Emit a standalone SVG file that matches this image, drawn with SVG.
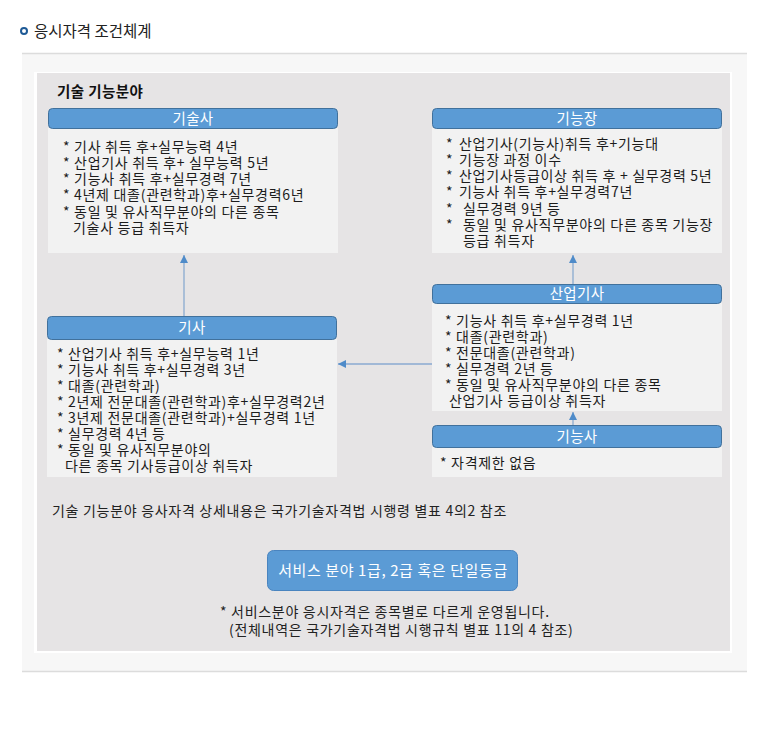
<svg xmlns="http://www.w3.org/2000/svg" width="783" height="729" viewBox="0 0 783 729">
<defs>
<style>
text{font-family:"Noto Sans CJK KR","Noto Sans",sans-serif;}
.hdr{fill:#5b9bd5;stroke:#41719c;stroke-width:1;}
.body{fill:#f2f2f2;}
.ht{fill:#ffffff;font-size:14.5px;text-anchor:middle;letter-spacing:0.3px;}
.bt{fill:#1c1c1c;font-size:14px;letter-spacing:0.7px;}
.ft{fill:#222222;font-size:14px;letter-spacing:0.7px;}
.conn{stroke:#8aaad0;stroke-width:1.3;fill:none;marker-end:url(#ah);}
</style>
<marker id="ah" markerUnits="userSpaceOnUse" markerWidth="10" markerHeight="10" refX="8" refY="5" orient="auto">
<path d="M0,1 L8,5 L0,9 Z" fill="#4f8bc9"/>
</marker>
</defs>
<rect width="783" height="729" fill="#ffffff"/>
<g id="title">
<circle cx="24" cy="31" r="3" fill="#ffffff" stroke="#1e5a96" stroke-width="2"/>
<text x="34" y="37" font-size="15.5" fill="#222222">응시자격 조건체계</text>
</g>
<g id="panel">
<rect x="22" y="53" width="725" height="619" fill="#f7f7f7"/>
<line x1="22" y1="53.5" x2="747" y2="53.5" stroke="#dcdcdc" stroke-width="1.5"/>
<line x1="22" y1="671.5" x2="747" y2="671.5" stroke="#dcdcdc" stroke-width="1.5"/>
<rect x="34" y="72" width="698" height="581" fill="#ffffff"/>
<rect x="37" y="73" width="693" height="578" fill="#e6e4e5"/>
<text x="57" y="97" font-size="14.5" font-weight="bold" fill="#111111" letter-spacing="0.4">기술 기능분야</text>
</g>
<g id="connectors">
<line class="conn" x1="184" y1="316" x2="184" y2="255"/>
<line class="conn" x1="573" y1="284" x2="573" y2="255"/>
<line class="conn" x1="573" y1="425" x2="573" y2="412"/>
<line class="conn" x1="432" y1="364" x2="338" y2="364"/>
</g>
<g id="node-gisulsa">
<rect class="body" x="48" y="128" width="290" height="125"/>
<rect class="hdr" x="48.5" y="108.5" width="289" height="20" rx="4"/>
<text class="ht" x="193" y="123.5">기술사</text>
<text class="bt" x="63" y="151.5">* 기사 취득 후+실무능력 4년</text>
<text class="bt" x="63" y="167.8">* 산업기사 취득 후+ 실무능력 5년</text>
<text class="bt" x="63" y="184.1">* 기능사 취득 후+실무경력 7년</text>
<text class="bt" x="63" y="200.4">* 4년제 대졸(관련학과)후+실무경력6년</text>
<text class="bt" x="63" y="216.7">* 동일 및 유사직무분야의 다른 종목</text>
<text class="bt" x="73" y="233">기술사 등급 취득자</text>
</g>
<g id="node-gineungjang">
<rect class="body" x="432" y="128" width="290" height="125"/>
<rect class="hdr" x="432.5" y="108.5" width="289" height="20" rx="4"/>
<text class="ht" x="577" y="123.5">기능장</text>
<text class="bt" x="446" y="148.5">*</text><text class="bt" x="459" y="148.5">산업기사(기능사)취득 후+기능대</text>
<text class="bt" x="446" y="164.8">*</text><text class="bt" x="459" y="164.8">기능장 과정 이수</text>
<text class="bt" x="446" y="181.1">*</text><text class="bt" x="459" y="181.1">산업기사등급이상 취득 후 + 실무경력 5년</text>
<text class="bt" x="446" y="197.4">*</text><text class="bt" x="459" y="197.4">기능사 취득 후+실무경력7년</text>
<text class="bt" x="446" y="213.7">*</text><text class="bt" x="463" y="213.7">실무경력 9년 등</text>
<text class="bt" x="446" y="230">*</text><text class="bt" x="463" y="230">동일 및 유사직무분야의 다른 종목 기능장</text>
<text class="bt" x="463" y="246">등급 취득자</text>
</g>
<g id="node-saneopgisa">
<rect class="body" x="432" y="303" width="290" height="108"/>
<rect class="hdr" x="432.5" y="284.5" width="289" height="19" rx="4"/>
<text class="ht" x="577" y="299">산업기사</text>
<text class="bt" x="445" y="325.5">* 기능사 취득 후+실무경력 1년</text>
<text class="bt" x="445" y="341.5">* 대졸(관련학과)</text>
<text class="bt" x="445" y="357.5">* 전문대졸(관련학과)</text>
<text class="bt" x="445" y="373.5">* 실무경력 2년 등</text>
<text class="bt" x="445" y="389.5">* 동일 및 유사직무분야의 다른 종목</text>
<text class="bt" x="449" y="405.5">산업기사 등급이상 취득자</text>
</g>
<g id="node-gineungsa">
<rect class="body" x="432" y="447" width="290" height="30"/>
<rect class="hdr" x="432.5" y="425.5" width="289" height="22" rx="4"/>
<text class="ht" x="577" y="441.5">기능사</text>
<text class="bt" x="440" y="468">* 자격제한 없음</text>
</g>
<g id="node-gisa">
<rect class="body" x="47" y="339" width="290" height="138"/>
<rect class="hdr" x="47.5" y="316.5" width="289" height="23" rx="4"/>
<text class="ht" x="192" y="333">기사</text>
<text class="bt" x="57" y="359">* 산업기사 취득 후+실무능력 1년</text>
<text class="bt" x="57" y="375">* 기능사 취득 후+실무경력 3년</text>
<text class="bt" x="57" y="391">* 대졸(관련학과)</text>
<text class="bt" x="57" y="407">* 2년제 전문대졸(관련학과)후+실무경력2년</text>
<text class="bt" x="57" y="423">* 3년제 전문대졸(관련학과)+실무경력 1년</text>
<text class="bt" x="57" y="439">* 실무경력 4년 등</text>
<text class="bt" x="57" y="455">* 동일 및 유사직무분야의</text>
<text class="bt" x="65" y="471">다른 종목 기사등급이상 취득자</text>
</g>
<g id="footer">
<text class="ft" x="52" y="516">기술 기능분야 응사자격 상세내용은 국가기술자격법 시행령 별표 4의2 참조</text>
</g>
<g id="node-service">
<rect x="267.5" y="550.5" width="250" height="40" rx="6" fill="#5b9bd5" stroke="#4a84bf" stroke-width="1"/>
<text x="393" y="576" font-size="15" fill="#ffffff" text-anchor="middle" letter-spacing="0.6">서비스 분야 1급, 2급 혹은 단일등급</text>
</g>
<g id="note">
<text class="ft" x="220" y="617">* 서비스분야 응시자격은 종목별로 다르게 운영됩니다.</text>
<text class="ft" x="229" y="635">(전체내역은 국가기술자격법 시행규칙 별표 11의 4 참조)</text>
</g>
</svg>
